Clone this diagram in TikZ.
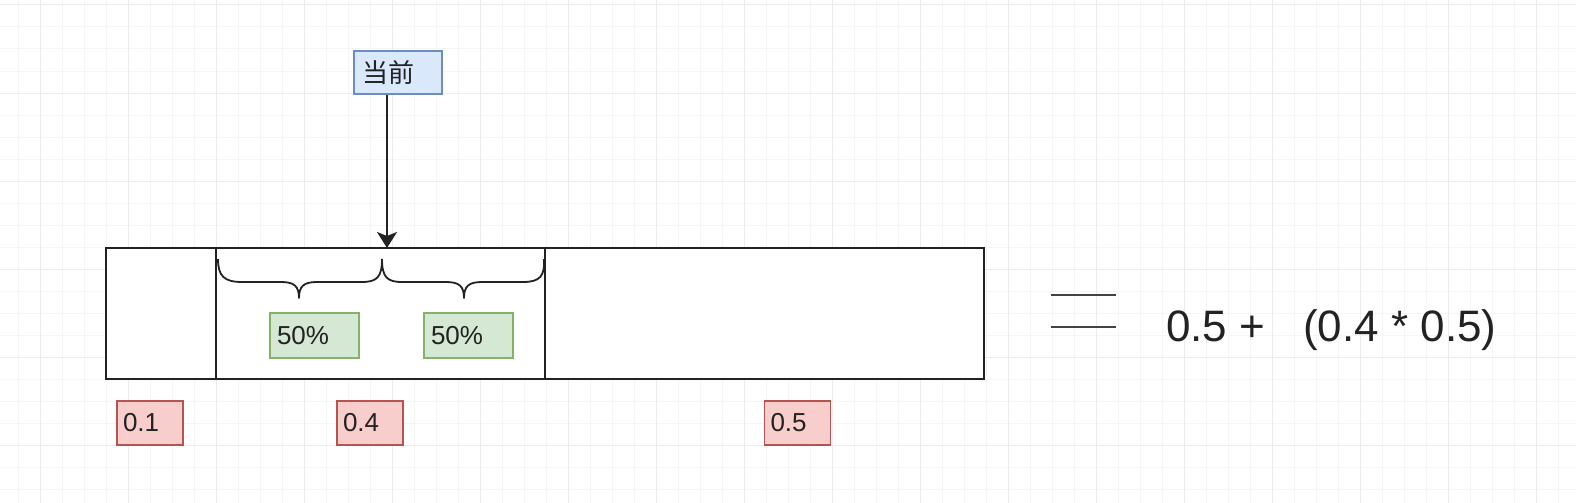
\documentclass[tikz,border=0pt]{standalone}
\usepackage{fontspec}
\setmainfont{Liberation Sans}
\newfontfamily\cjk{Noto Sans CJK SC}
\usetikzlibrary{arrows.meta}
\definecolor{gridminor}{HTML}{F5F5F5}
\definecolor{gridmajor}{HTML}{ECECEC}
\definecolor{bluefill}{HTML}{DAE8FC}
\definecolor{blueline}{HTML}{6C8EBF}
\definecolor{greenfill}{HTML}{D5E8D4}
\definecolor{greenline}{HTML}{82B366}
\definecolor{redfill}{HTML}{F8CECC}
\definecolor{redline}{HTML}{B85450}
\definecolor{ink}{HTML}{222222}
\tikzset{
  lbl/.style={font=\fontsize{26}{30}\selectfont, text=ink, align=left, inner ysep=0pt, line width=1.5pt},
  bluebox/.style={lbl, fill=bluefill, draw=blueline, minimum width=88pt, minimum height=43pt, inner xsep=8pt, text width=72pt},
  greenbox/.style={lbl, fill=greenfill, draw=greenline, minimum width=89pt, minimum height=45pt, inner xsep=7pt, text width=75pt},
  redbox/.style={lbl, fill=redfill, draw=redline, minimum width=66pt, minimum height=44pt, inner xsep=6pt, text width=54pt},
  barline/.style={draw=ink, line width=2pt},
  bracestyle/.style={draw=ink, line width=1.8pt, line join=round},
}
\begin{document}
\begin{tikzpicture}[x=1pt,y=-1pt]
\useasboundingbox (0,0) rectangle (1576,503);
\fill[white] (0,0) rectangle (1576,503);
% grid
\foreach \x in {18,40,...,1576} \draw[gridminor, line width=1pt] (\x,0) -- (\x,503);
\foreach \y in {5,27,...,503} \draw[gridminor, line width=1pt] (0,\y) -- (1576,\y);
\foreach \x in {40,128,...,1576} \draw[gridmajor, line width=1pt] (\x,0) -- (\x,503);
\foreach \y in {5,93,...,503} \draw[gridmajor, line width=1pt] (0,\y) -- (1576,\y);

% main bar
\node[barline, minimum width=878pt, minimum height=131pt, inner sep=0pt, fill=white] (bar) at (545,313.5) {};
\draw[barline] (216,248) -- (216,379);
\draw[barline] (545,248) -- (545,379);

% braces
\draw[bracestyle] (218,259) .. controls (218,276) and (224,282) .. (242,282)
  -- (281,282) .. controls (294,282) and (299,286) .. (299,298)
  .. controls (299,286) and (304,282) .. (317,282)
  -- (362,282) .. controls (377,282) and (382,277) .. (382,259);
\draw[bracestyle] (382,259) .. controls (382,277) and (387,282) .. (402,282)
  -- (446,282) .. controls (459,282) and (464,286) .. (464,298)
  .. controls (464,286) and (469,282) .. (482,282)
  -- (523,282) .. controls (540,282) and (545,276) .. (544,259);

% label boxes
\node[bluebox] (cur) at (398,72.5) {\cjk 当前};
\coordinate (tgt) at (387,248);
\draw[ink, line width=1.8pt, -{Stealth[length=16pt, width=20pt, inset=4pt]}] (cur.south -| tgt) -- (tgt);

\node[greenbox] (ga) at (314.5,335.5) {50\%};
\node[greenbox] (gb) at (468.5,335.5) {50\%};

\node[redbox] (r1) at (150,423) {0.1};
\node[redbox] (r4) at (370,423) {0.4};
\node[redbox] (r5) at (797.5,423) {0.5};

% equation
\draw[ink!85, line width=2pt] (1051,295) -- (1116,295);
\draw[ink!85, line width=2pt] (1051,327) -- (1116,327);
\node[anchor=base west, inner sep=0pt, text=ink, font=\fontsize{44}{50}\selectfont] (eq) at (1166,341) {0.5 +\hspace{38pt}(0.4 * 0.5)};
\end{tikzpicture}
\end{document}
